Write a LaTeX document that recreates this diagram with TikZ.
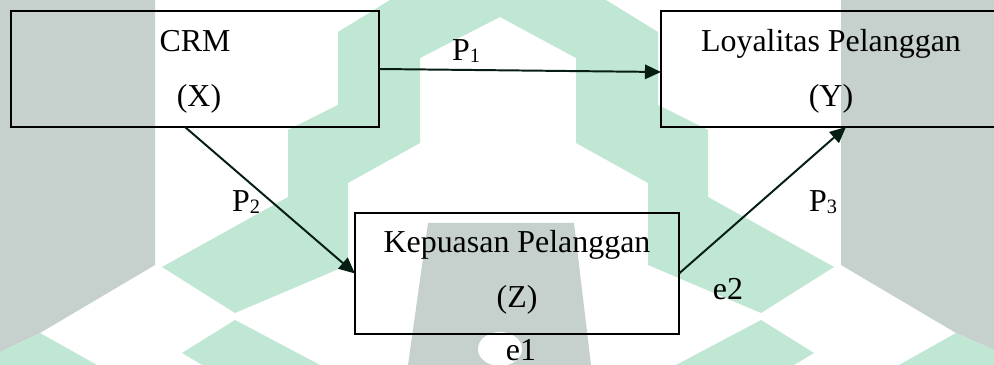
\documentclass[tikz,border=0pt]{standalone}
\usepackage{fontspec}
\setmainfont{Liberation Serif}
\usetikzlibrary{arrows.meta}
\definecolor{wmgreen}{RGB}{192,230,212}
\definecolor{wmgray}{RGB}{198,208,205}
\definecolor{linecol}{RGB}{6,30,18}
\newcommand\sbs[1]{\raisebox{-1.4pt}{\fontsize{14.5}{14.5}\selectfont #1}}
\begin{document}
\begin{tikzpicture}[x=0.025cm,y=-0.025cm,
  box/.style={draw=black,line width=1pt,inner sep=0pt,outer sep=0pt},
  lbl/.style={font=\fontsize{22.7}{27}\selectfont,inner sep=0pt,anchor=base,text=black},
  arr/.style={draw=linecol,line width=1.4pt,-{Triangle[length=0.4cm,width=0.36cm]}}]
\useasboundingbox (0,0) rectangle (994,365);
% watermark
\fill[white] (0,0) rectangle (994,365);
\fill[wmgray] (0,0) -- (155,0) -- (155,265) -- (40,333) -- (0,352) -- cycle;
\fill[wmgray] (994,0) -- (841,0) -- (841,265) -- (956,333) -- (994,350) -- cycle;
\fill[wmgray] (428,223) -- (574,223) -- (591,365) -- (408,365) -- cycle;
\fill[white] (500,349) ellipse [x radius=22, y radius=17];
\fill[wmgreen] (390,0) -- (338,32) -- (338,105) -- (288,130) -- (288,197)
  -- (162,267) -- (235,313) -- (348,265) -- (348,183) -- (420,143) -- (420,58)
  -- (500,17) -- (576,58) -- (576,143) -- (648,183) -- (648,265) -- (761,313)
  -- (834,267) -- (708,197) -- (708,130) -- (658,105) -- (658,32) -- (606,0) -- cycle;
\fill[wmgreen] (0,352) -- (40,333) -- (97,365) -- (0,365) -- cycle;
\fill[wmgreen] (994,350) -- (956,333) -- (899,365) -- (994,365) -- cycle;
\fill[wmgreen] (235,320) -- (182,353) -- (202,365) -- (320,365) -- cycle;
\fill[wmgreen] (761,320) -- (814,353) -- (794,365) -- (676,365) -- cycle;
% boxes
\node[box,minimum width=9.2cm,minimum height=2.9cm] (crm) at (195,69) {};
\node[box,minimum width=8.5cm,minimum height=2.9cm] (ly) at (831,69) {};
\node[box,minimum width=8.1cm,minimum height=3.025cm] (kp) at (517,273.5) {};
% texts
\node[lbl] (crmt) at (195,52) {CRM};
\node[lbl] (crmx) at (199,107) {(X)};
\node[lbl] (lyt) at (831,52) {Loyalitas Pelanggan};
\node[lbl] (lyy) at (831,107) {(Y)};
\node[lbl] (kpt) at (517,253) {Kepuasan Pelanggan};
\node[lbl] (kpz) at (517,308) {(Z)};
\node[lbl] (p1) at (466,61) {P\sbs{1}};
\node[lbl] (p2) at (246,212) {P\sbs{2}};
\node[lbl] (p3) at (823,212) {P\sbs{3}};
\node[lbl] (e2) at (728,300) {e2};
\node[lbl] (e1) at (521,361) {e1};
% connectors
\draw[arr] (crm.east) -- ([yshift=-0.075cm]ly.west);
\draw[arr] ([xshift=-0.25cm]crm.south) -- (kp.west);
\draw[arr] (kp.east) -- ([xshift=0.375cm]ly.south);
\end{tikzpicture}
\end{document}
